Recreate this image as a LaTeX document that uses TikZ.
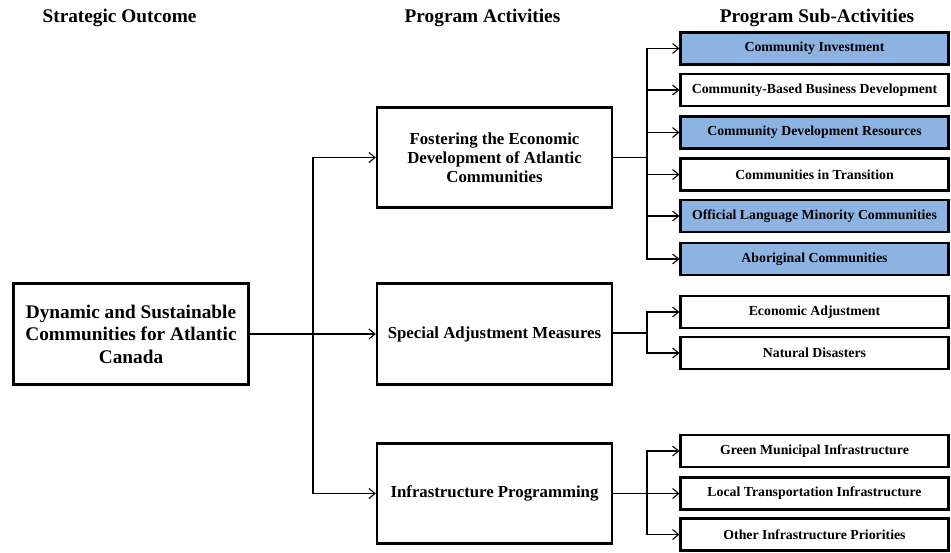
\documentclass[tikz,border=0pt]{standalone}
\usepackage{fontspec}
\setmainfont{Liberation Serif}
\usetikzlibrary{arrows.meta}
\definecolor{subblue}{RGB}{141,179,226}
\begin{document}
\begin{tikzpicture}[x=1pt,y=-1pt,
  outbox/.style={draw=black,line width=2.4pt,fill=white,align=center,inner sep=0pt,font=\bfseries\fontsize{19.3}{22.5}\selectfont},
  actbox/.style={draw=black,line width=2.4pt,fill=white,align=center,inner sep=0pt,minimum width=235pt,font=\bfseries\fontsize{16.8}{19.2}\selectfont},
  subbox/.style={draw=black,line width=2.2pt,align=center,inner sep=0pt,minimum width=268pt,minimum height=32pt,font=\bfseries\fontsize{13.8}{16}\selectfont},
  hilite/.style={subbox,fill=subblue},
  plain/.style={subbox,fill=white},
  header/.style={font=\bfseries\fontsize{19.3}{22}\selectfont,inner sep=0pt},
  conn/.style={line width=1.2pt,draw=black},
  arr/.style={conn,-{Straight Barb[length=6pt,width=10pt,line width=1.1pt]}}
]
\useasboundingbox (0,0) rectangle (951,552);

% headers
\node[header] (h1) at (119.5,18) {Strategic Outcome};
\node[header] (h2) at (482.5,18) {Program Activities};
\node[header] (h3) at (817,18) {Program Sub-Activities};

% strategic outcome
\node[outbox,minimum width=235pt,minimum height=101pt] (so) at (131,334)
  {Dynamic and Sustainable\\Communities for Atlantic\\Canada};

% activities
\node[actbox,minimum height=100pt] (a1) at (494.5,157.5)
  {Fostering the Economic\\Development of Atlantic\\Communities};
\node[actbox,minimum height=101pt] (a2) at (494.5,334) {Special Adjustment Measures};
\node[actbox,minimum height=100pt] (a3) at (494.5,493.5) {Infrastructure Programming};

% sub-activities
\node[hilite] (s1) at (814.5,48.5) {Community Investment};
\node[plain]  (s2) at (814.5,90) {Community-Based Business Development};
\node[hilite] (s3) at (814.5,132.5) {Community Development Resources};
\node[plain]  (s4) at (814.5,174.5) {Communities in Transition};
\node[hilite] (s5) at (814.5,216) {Official Language Minority Communities};
\node[hilite] (s6) at (814.5,259) {Aboriginal Communities};

\node[plain] (e1) at (814.5,312) {Economic Adjustment};
\node[plain] (e2) at (814.5,353) {Natural Disasters};

\node[plain] (i1) at (814.5,451) {Green Municipal Infrastructure};
\node[plain] (i2) at (814.5,493.5) {Local Transportation Infrastructure};
\node[plain] (i3) at (814.5,534.5) {Other Infrastructure Priorities};

% bus coordinates
\coordinate (b0) at (313,334);
\coordinate (b1) at (647,157.5);
\coordinate (b2) at (647,333);
\coordinate (b3) at (647,493.5);

% strategic outcome to activities
\draw[conn] (so.east) -- (b0);
\draw[arr] (so.east -| b0) |- (a1.west);
\draw[arr] (so.east -| b0) -- (a2.west);
\draw[arr] (so.east -| b0) |- (a3.west);

% fostering
\draw[conn] (a1.east) -- (b1);
\foreach \s in {s1,s2,s3,s4,s5,s6}{
  \draw[arr] (b1) |- (\s.west);
}
% special
\draw[conn] (a2.east |- b2) -- (b2);
\foreach \s in {e1,e2}{
  \draw[arr] (b2) |- (\s.west);
}
% infrastructure
\draw[conn] (a3.east) -- (b3);
\foreach \s in {i1,i2,i3}{
  \draw[arr] (b3) |- (\s.west);
}
\end{tikzpicture}
\end{document}
